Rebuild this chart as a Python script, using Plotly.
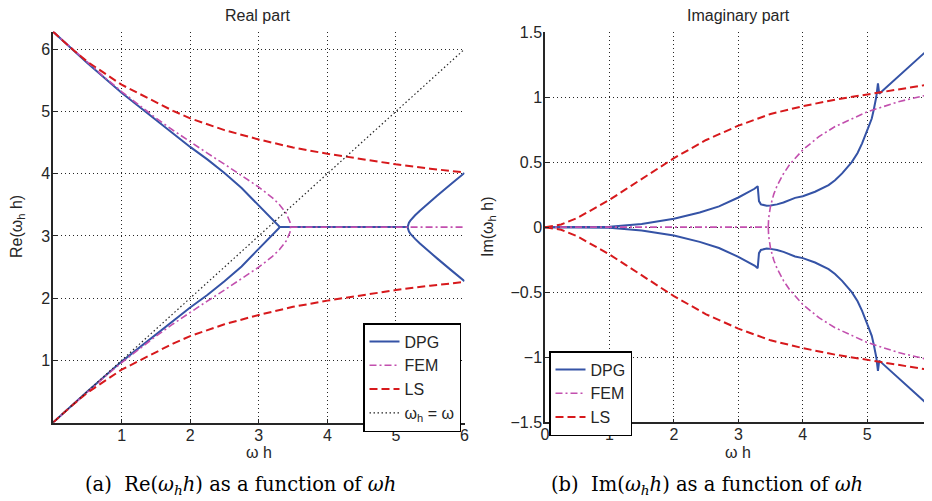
import plotly.graph_objects as go

TWO_PI = 6.28319

# ---------------- Real part data ----------------
dpg_re_x_left = [0, 0.5, 1.0, 1.5, 2.0, 2.25, 2.5, 2.75, 3.0, 3.1, 3.16, 3.22, 3.26, 3.28, 3.29, 3.297, 3.3]
dpg_re_low = [0, 0.50, 0.98, 1.42, 1.85, 2.05, 2.27, 2.51, 2.79, 2.90, 2.966, 3.033, 3.079, 3.103, 3.117,
              3.129, 3.1416]
dpg_re_up = [6.2832, 5.78, 5.30, 4.86, 4.43, 4.23, 4.01, 3.77, 3.494, 3.384, 3.317, 3.250, 3.205, 3.180,
             3.167, 3.154, 3.1416]
dpg_re_x_flat = [3.3, 5.17]
dpg_re_flat = [3.1416, 3.1416]
dpg_re_x_right = [5.17, 5.175, 5.18, 5.19, 5.21, 5.24, 5.28, 5.35, 5.45, 5.6, 5.8, 6.0]
dpg_re_right_up = [3.1416, 3.177, 3.191, 3.213, 3.246, 3.286, 3.332, 3.405, 3.503, 3.645, 3.829, 4.012]
dpg_re_right_low = [3.1416, 3.107, 3.092, 3.070, 3.037, 2.998, 2.952, 2.878, 2.780, 2.639, 2.454, 2.272]

fem_re_x = [0, 0.25, 0.5, 0.75, 1.0, 1.25, 1.5, 1.75, 2.0, 2.25, 2.5, 2.75, 3.0, 3.2, 3.3, 3.4, 3.44, 3.455, 3.464]
fem_re_low = [0, 0.249, 0.495, 0.733, 0.963, 1.181, 1.388, 1.585, 1.772, 1.953, 2.130, 2.309, 2.498,
              2.671, 2.778, 2.918, 3.005, 3.058, 3.1416]
fem_re_up = [6.2832, 6.034, 5.788, 5.550, 5.320, 5.102, 4.895, 4.698, 4.511, 4.330, 4.153, 3.974, 3.785,
             3.612, 3.505, 3.365, 3.278, 3.225, 3.1416]
fem_re_x_flat = [3.464, 6.0]
fem_re_flat = [3.1416, 3.1416]

ls_x = [0, 0.25, 0.5, 0.75, 1.0, 1.25, 1.5, 1.75, 2.0, 2.5, 3.0, 3.5, 4.0, 4.5, 5.0, 5.5, 6.0]
ls_re_low = [0, 0.25, 0.48, 0.67, 0.85, 0.99, 1.13, 1.27, 1.39, 1.58, 1.73, 1.86, 1.96, 2.05, 2.13, 2.20, 2.26]
ls_re_up = [6.2832, 6.03, 5.80, 5.61, 5.43, 5.29, 5.15, 5.01, 4.89, 4.70, 4.55, 4.42, 4.32, 4.23, 4.15, 4.08, 4.02]

exact_x = [0, 6]
exact_y = [0, 6]

# ---------------- Imaginary part data ----------------
dpg_im_x = [0, 0.5, 1.0, 1.5, 2.0, 2.4, 2.7, 3.0, 3.15, 3.25, 3.30, 3.305, 3.32, 3.35, 3.40, 3.44, 3.5,
            3.6, 3.7, 3.8, 3.88, 4.0, 4.19, 4.4, 4.5, 4.61, 4.76, 4.85, 4.92, 5.02, 5.07, 5.10, 5.125,
            5.14, 5.155, 5.166, 5.186, 5.4, 5.6, 5.8, 6.0]
dpg_im_up = [0, 0.0, 0.004, 0.025, 0.064, 0.113, 0.16, 0.228, 0.265, 0.295, 0.315, 0.26, 0.20, 0.175,
             0.166, 0.164, 0.167, 0.175, 0.19, 0.21, 0.225, 0.238, 0.272, 0.323, 0.36, 0.413, 0.50, 0.57,
             0.644, 0.77, 0.835, 0.90, 0.95, 1.0, 1.06, 1.105, 1.026, 1.121, 1.211, 1.30, 1.39]
dpg_im_low = [0, -0.0, -0.004, -0.025, -0.064, -0.113, -0.16, -0.228, -0.265, -0.295, -0.315, -0.26, -0.20,
              -0.175, -0.166, -0.164, -0.167, -0.175, -0.19, -0.21, -0.225, -0.238, -0.272, -0.323, -0.36,
              -0.413, -0.50, -0.57, -0.644, -0.77, -0.835, -0.90, -0.95, -1.0, -1.06, -1.105, -1.026,
              -1.121, -1.211, -1.30, -1.39]

fem_im_x_zero = [0, 3.464]
fem_im_zero = [0, 0]
fem_im_x = [3.464, 3.47, 3.5, 3.55, 3.6, 3.7, 3.8, 4.0, 4.25, 4.5, 5.0, 5.5, 6.0]
fem_im_up = [0, 0.067, 0.165, 0.254, 0.317, 0.411, 0.484, 0.594, 0.696, 0.773, 0.887, 0.966, 1.024]
fem_im_low = [0, -0.067, -0.165, -0.254, -0.317, -0.411, -0.484, -0.594, -0.696, -0.773, -0.887, -0.966, -1.024]

ls_im_up = [0, 0.02, 0.07, 0.14, 0.21, 0.29, 0.37, 0.45, 0.53, 0.67, 0.78, 0.87, 0.93, 0.98, 1.02, 1.06, 1.10]
ls_im_low = [0, -0.02, -0.07, -0.14, -0.21, -0.29, -0.37, -0.45, -0.53, -0.67, -0.78, -0.87, -0.93, -0.98,
             -1.02, -1.06, -1.10]

left_ticks = [1, 2, 3, 4, 5, 6]
right_xticks = [0, 1, 2, 3, 4, 5, 6]
right_yticks = [-1.5, -1, -0.5, 0, 0.5, 1, 1.5]
right_yticklabels = ["\u22121.5", "\u22121", "\u22120.5", "0", "0.5", "1", "1.5"]


def join(*pairs):
    xs, ys = [], []
    for px_, py_ in pairs:
        if xs:
            xs.append(None)
            ys.append(None)
        xs.extend(px_)
        ys.extend(py_)
    return xs, ys


BLUE = "#3553A6"
MAG = "#C24FAE"
RED = "#D7191C"
INK = "#262626"
SANS = "Liberation Sans, Arial, sans-serif"

fig = go.Figure()

# Left (real part)
x, y = join((dpg_re_x_left, dpg_re_low), (dpg_re_x_left, dpg_re_up), (dpg_re_x_flat, dpg_re_flat),
            (dpg_re_x_right, dpg_re_right_up), (dpg_re_x_right, dpg_re_right_low))
fig.add_trace(go.Scatter(x=x, y=y, mode="lines", name="DPG", line=dict(color=BLUE, width=2),
                         xaxis="x", yaxis="y", legend="legend"))
x, y = join((fem_re_x, fem_re_low), (fem_re_x, fem_re_up), (fem_re_x_flat, fem_re_flat))
fig.add_trace(go.Scatter(x=x, y=y, mode="lines", name="FEM",
                         line=dict(color=MAG, width=1.6, dash="7px,3px,2px,3px"),
                         xaxis="x", yaxis="y", legend="legend"))
x, y = join((ls_x, ls_re_low), (ls_x, ls_re_up))
fig.add_trace(go.Scatter(x=x, y=y, mode="lines", name="LS", line=dict(color=RED, width=2, dash="8px,4px"),
                         xaxis="x", yaxis="y", legend="legend"))
fig.add_trace(go.Scatter(x=exact_x, y=exact_y, mode="lines", name="\u03c9<sub>h</sub> = \u03c9",
                         line=dict(color=INK, width=1.2, dash="1.5px,2.5px"),
                         xaxis="x", yaxis="y", legend="legend"))

# Right (imag part)
x, y = join((dpg_im_x, dpg_im_up), (dpg_im_x, dpg_im_low))
fig.add_trace(go.Scatter(x=x, y=y, mode="lines", name="DPG", line=dict(color=BLUE, width=2),
                         xaxis="x2", yaxis="y2", legend="legend2"))
x, y = join((fem_im_x_zero, fem_im_zero), (fem_im_x, fem_im_up), (fem_im_x, fem_im_low))
fig.add_trace(go.Scatter(x=x, y=y, mode="lines", name="FEM",
                         line=dict(color=MAG, width=1.6, dash="7px,3px,2px,3px"),
                         xaxis="x2", yaxis="y2", legend="legend2"))
x, y = join((ls_x, ls_im_up), (ls_x, ls_im_low))
fig.add_trace(go.Scatter(x=x, y=y, mode="lines", name="LS", line=dict(color=RED, width=2, dash="8px,4px"),
                         xaxis="x2", yaxis="y2", legend="legend2"))

W, H = 932, 501
OFF = 8  # page body margin offset


def px(v):
    return (v - OFF) / W


def py(v):
    return (H - (v - OFF)) / H


axis_common = dict(showline=True, linecolor=INK, linewidth=1.5, ticks="inside", ticklen=4,
                   tickcolor=INK, tickwidth=1, showgrid=True, gridcolor=INK, gridwidth=1,
                   griddash="1px,3px", zeroline=False, mirror=False, automargin=False,
                   tickfont=dict(family=SANS, size=16, color=INK))

fig.update_layout(
    width=W, height=H, margin=dict(l=0, r=0, t=0, b=0, autoexpand=False),
    paper_bgcolor="white", plot_bgcolor="white",
    xaxis=dict(domain=[px(53), px(464.5)], range=[0, 6], tickvals=left_ticks, anchor="y",
               ticklabelstandoff=-3, **axis_common),
    yaxis=dict(domain=[py(422.6), py(31.6)], range=[0, TWO_PI], tickvals=left_ticks, anchor="x",
               ticklabelstandoff=-2, **axis_common),
    xaxis2=dict(domain=[px(545), px(931.7)], range=[0, 6], tickvals=right_xticks, anchor="y2",
                ticklabelstandoff=-3, **axis_common),
    yaxis2=dict(domain=[py(422.3), py(32)], range=[-1.5, 1.5], tickvals=right_yticks,
                ticktext=right_yticklabels, anchor="x2", ticklabelstandoff=-2, **axis_common),
    legend=dict(x=px(363), y=py(323), xanchor="left", yanchor="top", bgcolor="white",
                bordercolor="black", borderwidth=1.5, font=dict(family=SANS, size=16, color=INK),
                itemwidth=30, tracegroupgap=0),
    legend2=dict(x=px(549), y=py(351), xanchor="left", yanchor="top", bgcolor="white",
                 bordercolor="black", borderwidth=1.5, font=dict(family=SANS, size=16, color=INK),
                 itemwidth=30, tracegroupgap=0),
    showlegend=True,
)

ann = [
    dict(text="Real part", x=px(258), y=py(16)),
    dict(text="Imaginary part", x=px(738), y=py(16)),
    dict(text="\u03c9 h", x=px(258.5), y=py(452)),
    dict(text="\u03c9 h", x=px(738), y=py(452)),
    dict(text="Re(\u03c9<sub>h</sub> h)", x=px(17), y=py(227), textangle=-90),
    dict(text="Im(\u03c9<sub>h</sub> h)", x=px(488), y=py(227), textangle=-90),
]
for a in ann:
    fig.add_annotation(xref="paper", yref="paper", showarrow=False, xanchor="center", yanchor="middle",
                       font=dict(family=SANS, size=16, color=INK), **a)

SERIF = "DejaVu Serif, Liberation Serif, serif"
fig.add_annotation(xref="paper", yref="paper", showarrow=False, x=px(240), y=py(485),
                   xanchor="center", yanchor="middle",
                   text="(a)  Re(<i>\u03c9<sub>h</sub>h</i>) as a function of <i>\u03c9h</i>",
                   font=dict(family=SERIF, size=19.5, color="black"))
fig.add_annotation(xref="paper", yref="paper", showarrow=False, x=px(707), y=py(485),
                   xanchor="center", yanchor="middle",
                   text="(b)  Im(<i>\u03c9<sub>h</sub>h</i>) as a function of <i>\u03c9h</i>",
                   font=dict(family=SERIF, size=19.5, color="black"))

fig.write_html("out.html")
